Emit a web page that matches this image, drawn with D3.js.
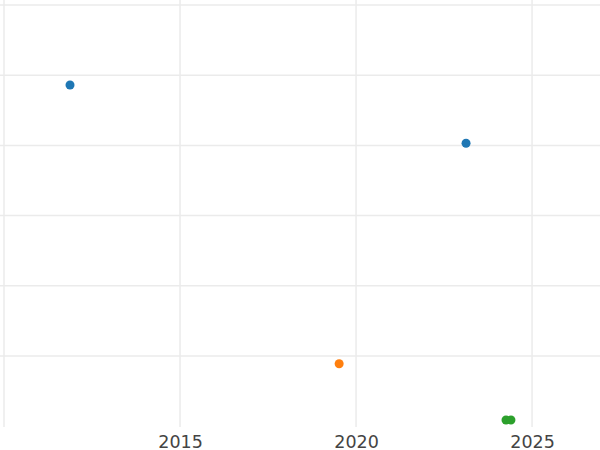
<!DOCTYPE html>
<html>
<head>
<meta charset="utf-8">
<script src="https://cdn.jsdelivr.net/npm/d3@7"></script>
<style>
  html, body { margin: 0; padding: 0; background: #fff; }
  svg { display: block; }
</style>
</head>
<body>
<svg id="chart" width="600" height="450"></svg>
<script>
// Data (decimal years, y values)
const seriesNames = ["A", "B", "C"];
const seriesColors = ["#1f77b4", "#ff7f0e", "#2ca02c"];
const xA = [2011.875, 2023.125];
const yA = [3.86, 3.03];
const xB = [2019.52];
const yB = [-0.11];
const xC = [2024.26, 2024.40];
const yC = [-0.91, -0.91];
const xTicks = [2010, 2015, 2020, 2025];
const xTickLabels = ["", "2015", "2020", "2025"];
const yTicks = [0, 1, 2, 3, 4, 5];

const W = 600, H = 450;
const plot = { left: 0, right: 600, top: 0, bottom: 427 };

const svg = d3.select("#chart");

const x = d3.scaleLinear().domain([2009.886, 2026.93]).range([plot.left, plot.right]);
const y = d3.scaleLinear().domain([-1.01, 5.07]).range([plot.bottom, plot.top]);

// grid
const g = svg.append("g");
g.selectAll("line.v").data(xTicks).enter().append("line")
  .attr("class", "v")
  .attr("x1", d => x(d)).attr("x2", d => x(d))
  .attr("y1", plot.top).attr("y2", plot.bottom)
  .attr("stroke", "#ebebeb").attr("stroke-width", 1.5);
g.selectAll("line.h").data(yTicks).enter().append("line")
  .attr("class", "h")
  .attr("x1", plot.left).attr("x2", plot.right)
  .attr("y1", d => y(d)).attr("y2", d => y(d))
  .attr("stroke", "#ebebeb").attr("stroke-width", 1.5);

// x axis labels
const xAxis = d3.axisBottom(x).tickValues(xTicks)
  .tickFormat((d, i) => xTickLabels[i]).tickSize(0).tickPadding(0);
const ax = svg.append("g").attr("transform", `translate(0,${plot.bottom})`).call(xAxis);
ax.select(".domain").remove();
ax.selectAll("text")
  .attr("y", 20.5).attr("dy", 0)
  .attr("font-family", "DejaVu Sans, sans-serif")
  .attr("font-size", 17.5)
  .attr("fill", "#444");

// points
const series = [
  { xs: xA, ys: yA },
  { xs: xB, ys: yB },
  { xs: xC, ys: yC }
];
series.forEach((s, i) => {
  const pts = s.xs.map((v, j) => [v, s.ys[j]]);
  svg.append("g").selectAll("circle").data(pts).enter().append("circle")
    .attr("cx", d => x(d[0])).attr("cy", d => y(d[1]))
    .attr("r", 4.5)
    .attr("fill", seriesColors[i]);
});
</script>
</body>
</html>
